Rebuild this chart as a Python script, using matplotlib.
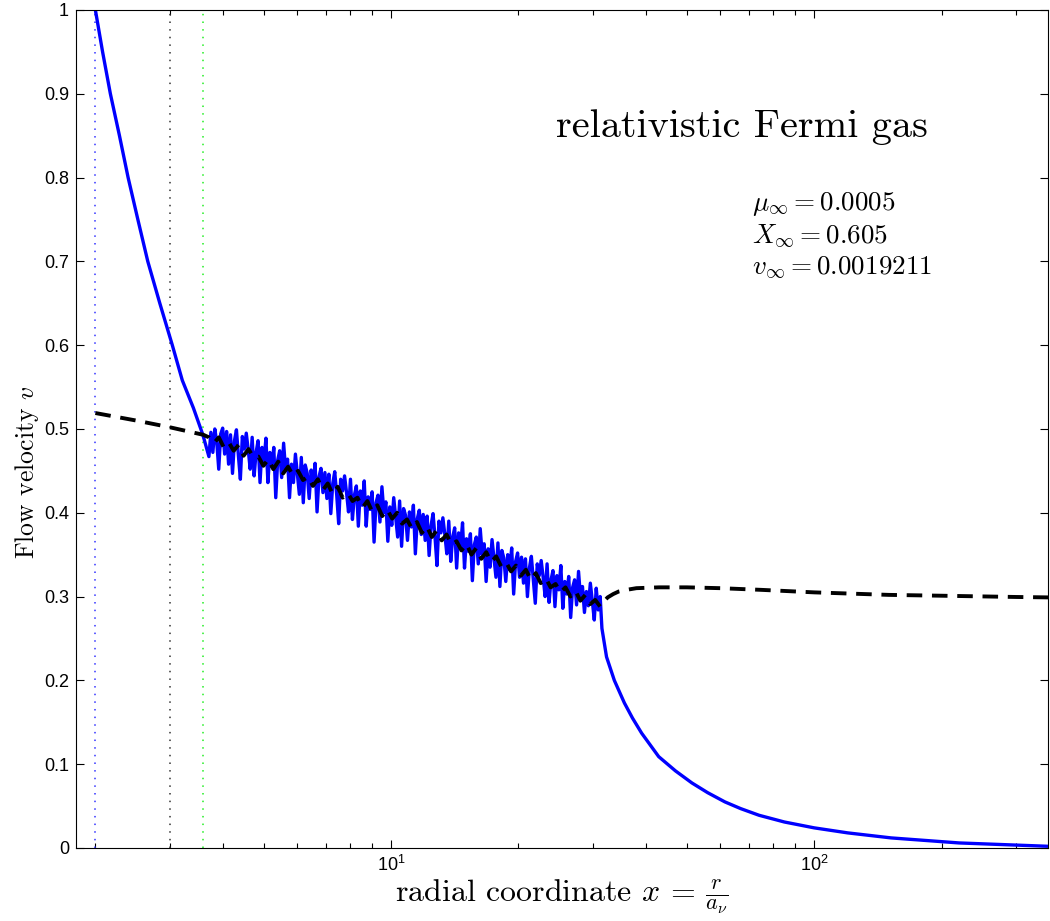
import numpy as np
import matplotlib
matplotlib.use("Agg")
from matplotlib import pyplot as plt
from matplotlib.ticker import NullFormatter

plt.rcParams['font.family'] = ['Liberation Sans', 'DejaVu Sans']
plt.rcParams['mathtext.fontset'] = 'cm'

# blue curve: steep branch before the noisy part
upper_x = [2.0, 2.08, 2.17, 2.28, 2.39, 2.52, 2.66, 2.84, 3.04, 3.21, 3.41, 3.59, 3.71]
upper_v = [1.0, 0.95, 0.9, 0.85, 0.8, 0.75, 0.7, 0.65, 0.6, 0.558, 0.525, 0.493, 0.467]

# blue curve: noisy part (x from 3.71 to 31.2, evenly spaced in log)
noisy_v = [
    0.467, 0.496, 0.472, 0.500, 0.484, 0.452, 0.494, 0.501, 0.470, 0.497,
    0.458, 0.493, 0.447, 0.486, 0.499, 0.468, 0.440, 0.491, 0.476, 0.495,
    0.475, 0.452, 0.490, 0.444, 0.472, 0.486, 0.436, 0.478, 0.461, 0.489,
    0.436, 0.472, 0.455, 0.478, 0.418, 0.463, 0.474, 0.442, 0.483, 0.451,
    0.464, 0.418, 0.458, 0.436, 0.470, 0.446, 0.422, 0.466, 0.412, 0.457,
    0.447, 0.417, 0.451, 0.433, 0.459, 0.401, 0.443, 0.453, 0.424, 0.448,
    0.417, 0.446, 0.399, 0.435, 0.449, 0.421, 0.387, 0.440, 0.426, 0.444,
    0.424, 0.401, 0.440, 0.392, 0.421, 0.432, 0.384, 0.426, 0.409, 0.438,
    0.384, 0.419, 0.404, 0.425, 0.365, 0.412, 0.421, 0.389, 0.431, 0.400,
    0.413, 0.366, 0.407, 0.385, 0.418, 0.395, 0.371, 0.414, 0.360, 0.405,
    0.397, 0.367, 0.401, 0.383, 0.409, 0.351, 0.393, 0.403, 0.374, 0.398,
    0.367, 0.396, 0.349, 0.385, 0.399, 0.371, 0.337, 0.390, 0.376, 0.394,
    0.374, 0.351, 0.390, 0.342, 0.371, 0.382, 0.334, 0.376, 0.359, 0.388,
    0.334, 0.369, 0.354, 0.375, 0.319, 0.362, 0.371, 0.339, 0.381, 0.350,
    0.363, 0.318, 0.357, 0.335, 0.368, 0.345, 0.323, 0.364, 0.312, 0.355,
    0.346, 0.318, 0.350, 0.332, 0.358, 0.303, 0.342, 0.352, 0.323, 0.347,
    0.316, 0.345, 0.300, 0.334, 0.348, 0.320, 0.292, 0.339, 0.325, 0.343,
    0.323, 0.300, 0.339, 0.293, 0.320, 0.331, 0.288, 0.325, 0.308, 0.337,
    0.286, 0.318, 0.303, 0.324, 0.275, 0.311, 0.320, 0.290, 0.330, 0.299,
    0.312, 0.281, 0.306, 0.289, 0.316, 0.295, 0.272, 0.310, 0.284, 0.300,
]

# blue curve: decaying branch
lower_x = [31.5, 32.3, 33.7, 35.6, 37.2, 39.1, 42.9, 47, 51.4, 56, 61.5, 67, 74.1,
           85, 100, 120, 152, 220, 280, 357]
lower_v = [0.262, 0.228, 0.200, 0.173, 0.155, 0.137, 0.109, 0.092, 0.0776, 0.066,
           0.055, 0.047, 0.039, 0.031, 0.024, 0.018, 0.012, 0.006, 0.004, 0.002]

# black dashed curve
dash_left_x = [2.0, 2.5, 3.0, 3.6]
dash_left_v = [0.519, 0.510, 0.502, 0.493]
dash_mid_v = [
    0.490, 0.483, 0.490, 0.478, 0.484, 0.474, 0.481, 0.468, 0.476, 0.466,
    0.467, 0.456, 0.464, 0.452, 0.461, 0.447, 0.455, 0.444, 0.450, 0.439,
    0.443, 0.432, 0.440, 0.427, 0.435, 0.422, 0.431, 0.418, 0.424, 0.414,
    0.418, 0.406, 0.414, 0.401, 0.409, 0.396, 0.404, 0.393, 0.400, 0.387,
    0.392, 0.381, 0.389, 0.376, 0.384, 0.371, 0.379, 0.367, 0.374, 0.362,
    0.366, 0.355, 0.363, 0.350, 0.358, 0.345, 0.353, 0.341, 0.348, 0.336,
    0.341, 0.330, 0.337, 0.325, 0.332, 0.320, 0.328, 0.316, 0.322, 0.311,
    0.315, 0.305, 0.311, 0.300, 0.307, 0.295, 0.302, 0.291, 0.296, 0.288,
]
dash_right_x = [31.2, 31.8, 32.5, 33.5, 34.5, 36, 38, 43, 50, 60, 75, 100, 150, 200, 300, 357]
dash_right_v = [0.288, 0.294, 0.299, 0.303, 0.306, 0.308, 0.310, 0.311, 0.311, 0.310,
                0.308, 0.305, 0.302, 0.301, 0.2995, 0.299]

# vertical dotted markers
marker_x = [2.0, 3.0, 3.6]
marker_colors = ['#3333ff', '#333333', '#22ee22']

fig = plt.figure(figsize=(10.5, 9.21), dpi=100)
ax = fig.add_axes([0.0724, 0.0793, 0.9257, 0.9099])

for mx, mc in zip(marker_x, marker_colors):
    ax.plot([mx, mx], [0, 1], color=mc, lw=1.1, linestyle=(0, (1, 4)))

noisy_x = np.geomspace(3.71, 31.2, len(noisy_v))
blue_x = np.concatenate([upper_x, noisy_x, lower_x])
blue_v = np.concatenate([upper_v, noisy_v, lower_v])
ax.plot(blue_x, blue_v, color='#0000ff', lw=2.4)

mid_x = np.geomspace(3.71, 31.2, len(dash_mid_v))
black_x = np.concatenate([dash_left_x, mid_x, dash_right_x])
black_v = np.concatenate([dash_left_v, dash_mid_v, dash_right_v])
ax.plot(black_x, black_v, color='black', lw=2.8, linestyle=(0, (4, 2.5)))

ax.set_xscale('log')
ax.set_xlim(1.8, 357)
ax.set_ylim(0, 1)
ax.set_yticks(np.arange(0, 1.01, 0.1))
ax.set_yticklabels(['0', '0.1', '0.2', '0.3', '0.4', '0.5', '0.6', '0.7', '0.8', '0.9', '1'])
ax.xaxis.set_minor_formatter(NullFormatter())
ax.tick_params(which='both', direction='in', top=True, right=True, labelsize=13, width=0.8)
ax.tick_params(which='major', length=6, pad=5)
ax.tick_params(which='minor', length=3.5)
for sp in ax.spines.values():
    sp.set_linewidth(0.8)

ax.set_xlabel(r'radial coordinate $x\,=\,\frac{r}{a_\nu}$', fontsize=23, family='cmr10', labelpad=2)
ax.set_ylabel(r'Flow velocity $v$', fontsize=18.5, family='cmr10')
ax.yaxis.set_label_coords(-0.036, 0.448)

ax.text(0.494, 0.848, 'relativistic Fermi gas', transform=ax.transAxes,
        fontsize=29, family='cmr10', va='baseline', ha='left')
ax.text(0.6955, 0.761, r'$\mu_\infty = 0.0005$', transform=ax.transAxes, fontsize=19.5, va='baseline')
ax.text(0.6955, 0.723, r'$X_\infty = 0.605$', transform=ax.transAxes, fontsize=19.5, va='baseline')
ax.text(0.6955, 0.686, r'$v_\infty = 0.0019211$', transform=ax.transAxes, fontsize=19.5, va='baseline')

fig.savefig('out.png', dpi=100)
